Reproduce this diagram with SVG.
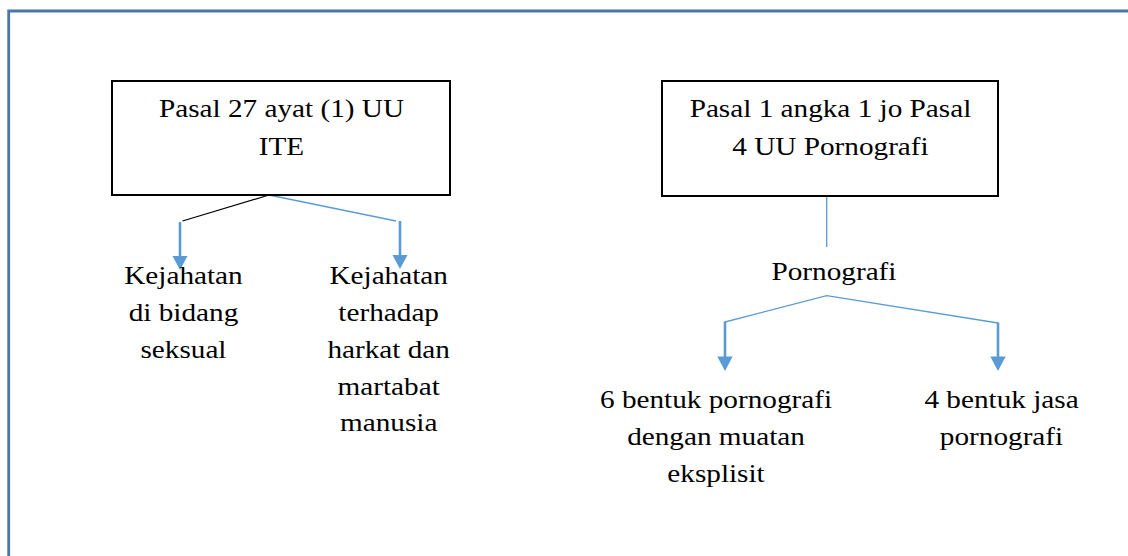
<svg xmlns="http://www.w3.org/2000/svg" width="1128" height="556" viewBox="0 0 1128 556">
<style>
text{font-family:'Liberation Serif','Times New Roman',serif;font-size:25px;fill:#000;text-anchor:middle}
.box{fill:#fff;stroke:#000;stroke-width:2}
.thin{fill:none;stroke:#5b9bd5;stroke-width:1.3}
.thick{fill:none;stroke:#5b9bd5;stroke-width:2.6}
.blk{fill:none;stroke:#000;stroke-width:1.2}
.head{fill:#5b9bd5}
</style>
<rect width="1128" height="556" fill="#fff"/>
<g id="frame">
<path d="M8.7 560 V11 H1132" fill="none" stroke="#4a77a8" stroke-width="2.8"/>
</g>
<g id="connectors">
<path class="blk" d="M182.5 221 L269 195"/>
<path class="thin" d="M269 195 L396 221"/>
<path class="thick" d="M180 222 V258"/>
<polygon class="head" points="172.5,256 187.5,256 180,270"/>
<path class="thick" d="M400 221 V257"/>
<polygon class="head" points="392.5,255 407.5,255 400,269"/>
<path class="thin" d="M826.7 197 V247"/>
<path class="thin" d="M725 322 L826.7 295.7 L998 323"/>
<path class="thick" d="M725 321.5 V358"/>
<polygon class="head" points="717.3,356.5 732.7,356.5 725,371"/>
<path class="thick" d="M998 322.5 V358"/>
<polygon class="head" points="990.3,356.5 1005.7,356.5 998,371"/>
</g>
<g id="node-ite">
<rect class="box" x="112" y="81" width="338" height="114"/>
<g transform="scale(1.17 1)">
<text x="240.6" y="117">Pasal 27 ayat (1) UU</text>
<text x="240.6" y="155">ITE</text>
</g>
</g>
<g id="node-uup">
<rect class="box" x="662" y="81" width="336" height="115"/>
<g transform="scale(1.17 1)">
<text x="709.8" y="117">Pasal 1 angka 1 jo Pasal</text>
<text x="709.8" y="155">4 UU Pornografi</text>
</g>
</g>
<g id="node-seksual" transform="scale(1.17 1)">
<text x="156.8" y="284">Kejahatan</text>
<text x="156.8" y="321">di bidang</text>
<text x="156.8" y="358">seksual</text>
</g>
<g id="node-harkat" transform="scale(1.17 1)">
<text x="332.2" y="284">Kejahatan</text>
<text x="332.2" y="321">terhadap</text>
<text x="332.2" y="358">harkat dan</text>
<text x="332.2" y="395">martabat</text>
<text x="332.2" y="431">manusia</text>
</g>
<g id="node-pornografi" transform="scale(1.17 1)">
<text x="712.8" y="280">Pornografi</text>
</g>
<g id="node-6bentuk" transform="scale(1.17 1)">
<text x="612" y="408">6 bentuk pornografi</text>
<text x="612" y="445">dengan muatan</text>
<text x="612" y="482">eksplisit</text>
</g>
<g id="node-4bentuk" transform="scale(1.17 1)">
<text x="856" y="408">4 bentuk jasa</text>
<text x="856" y="445">pornografi</text>
</g>
</svg>
